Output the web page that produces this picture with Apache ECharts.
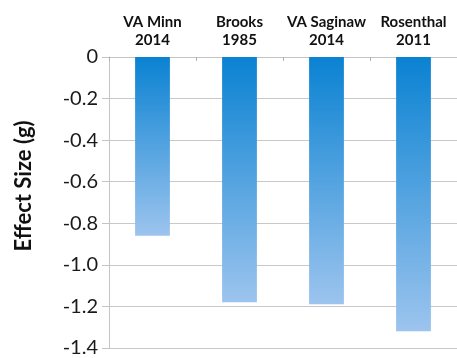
<!DOCTYPE html>
<html>
<head>
<meta charset="utf-8">
<script src="https://cdn.jsdelivr.net/npm/echarts@6/dist/echarts.min.js"></script>
<style>
  html, body { margin: 0; padding: 0; background: #fff; }
  #chart { width: 457px; height: 358px; }
</style>
</head>
<body>
<div id="chart"></div>
<script>
// Study labels and their effect sizes (Hedges' g)
const studies = ['VA Minn\n2014', 'Brooks\n1985', 'VA Saginaw\n2014', 'Rosenthal\n2011'];
const effectSizes = [-0.86, -1.18, -1.19, -1.32];
const yTicks = { min: -1.4, max: 0, interval: 0.2 };

const chart = echarts.init(document.getElementById('chart'), null, { renderer: 'canvas' });

// Each bar fades from a deep blue at the top to a pale blue at its bottom
const barGradient = new echarts.graphic.LinearGradient(0, 0, 0, 1, [
  { offset: 0, color: '#0a82d2' },
  { offset: 1, color: '#9cc4ee' }
]);

chart.setOption({
  animation: false,
  backgroundColor: '#ffffff',
  grid: { left: 109, top: 57, width: 351, height: 292, containLabel: false },
  xAxis: {
    type: 'category',
    position: 'top',
    data: studies,
    axisLine: { show: true, lineStyle: { color: '#c4c4c4', width: 1 } },
    axisTick: { show: true, inside: true, length: 4, lineStyle: { color: '#b0b0b0' } },
    axisLabel: {
      interval: 0,
      hideOverlap: false,
      margin: 8,
      fontFamily: 'Lato',
      fontWeight: 'bold',
      fontSize: 15,
      lineHeight: 18,
      color: '#111'
    },
    splitLine: { show: false }
  },
  yAxis: {
    type: 'value',
    min: yTicks.min,
    max: yTicks.max,
    interval: yTicks.interval,
    axisLine: { show: true, lineStyle: { color: '#c4c4c4', width: 1 } },
    axisTick: { show: true, length: 7, lineStyle: { color: '#c4c4c4' } },
    axisLabel: {
      margin: 11,
      fontFamily: 'Lato',
      fontSize: 20,
      color: '#1a1a1a',
      formatter: v => (Math.abs(v) < 1e-9 ? '0' : v.toFixed(1))
    },
    splitLine: { show: true, lineStyle: { color: '#c8c8c8', width: 1 } }
  },
  graphic: [{
    type: 'text',
    x: 24,
    y: 186,
    rotation: Math.PI / 2,
    style: {
      text: 'Effect Size (g)',
      fontFamily: 'Lato',
      fontWeight: 'bold',
      fontSize: 22,
      fill: '#111',
      textAlign: 'center',
      textVerticalAlign: 'middle'
    }
  }],
  series: [{
    type: 'bar',
    data: effectSizes,
    barWidth: '40%',
    itemStyle: { color: barGradient }
  }]
});
</script>
</body>
</html>
